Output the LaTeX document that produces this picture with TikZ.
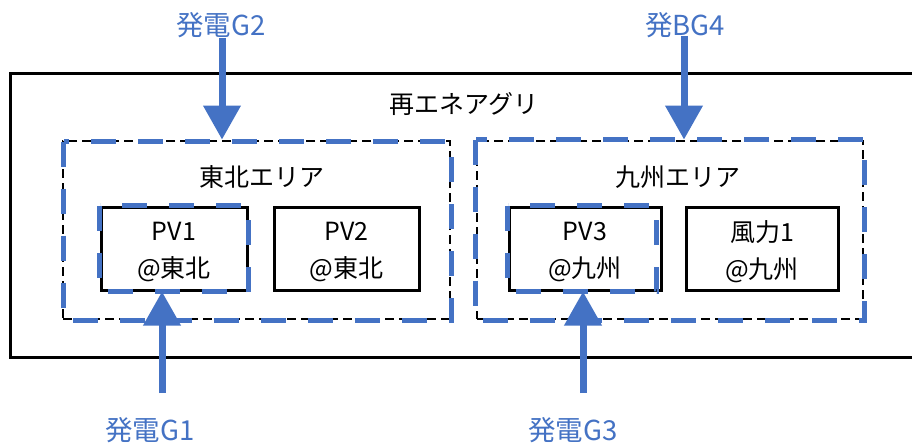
\documentclass[tikz,border=0pt]{standalone}
\usepackage{fontspec}
\setmainfont{Noto Sans CJK JP}
\usetikzlibrary{arrows.meta}
\definecolor{gblue}{HTML}{4472C4}
\begin{document}
\begin{tikzpicture}[x=1pt,y=-1pt,
  txt/.style={font=\fontsize{25}{37}\selectfont, align=center, inner sep=0pt},
  bluetxt/.style={font=\fontsize{27.5}{36}\selectfont, inner sep=0pt, text=gblue},
  outerbox/.style={draw, line width=3pt, inner sep=0pt},
  areabox/.style={draw, line width=2.8pt, dash pattern=on 9pt off 5pt, inner sep=0pt, minimum height=178pt},
  unitbox/.style={draw, line width=3pt, inner sep=0pt, minimum height=83pt},
  bluedash/.style={draw=gblue, line width=5.5pt, dash pattern=on 25pt off 22pt},
  garrow/.style={draw=gblue, line width=7pt, -{Triangle[width=36pt,length=34pt]}}
]
\clip (0,0) rectangle (912,444);
\fill[white] (0,0) rectangle (912,444);
% outer aggregate
\node[outerbox, minimum width=905pt, minimum height=284pt] (agg) at (462.5,215) {};
\node[txt] (aggl) at (464,104) {再エネアグリ};
% areas
\node[areabox, minimum width=387pt] (tohoku) at (256.5,230) {};
\node[areabox, minimum width=386pt] (kyushu) at (670,230) {};
\draw[bluedash] ([shift={(2,2)}]tohoku.north west) rectangle (tohoku.south east);
\draw[bluedash] (kyushu.north west) rectangle (kyushu.south east);
\node[txt] (tohokul) at (262,177) {東北エリア};
\node[txt] (kyushul) at (678,177) {九州エリア};
% units
\node[unitbox, minimum width=146pt] (pv1) at (174,248.5) {};
\node[unitbox, minimum width=145pt] (pv2) at (346.5,248.5) {};
\node[unitbox, minimum width=152pt] (pv3) at (585,248.5) {};
\node[unitbox, minimum width=152pt] (wind1) at (762,248.5) {};
\node[txt] (pv1t) at ([yshift=-3pt]pv1.center) {PV1\\@東北};
\node[txt] (pv2t) at ([yshift=-3pt]pv2.center) {PV2\\@東北};
\node[txt] (pv3t) at ([yshift=-3pt]pv3.center) {PV3\\@九州};
\node[txt] (wind1t) at ([yshift=-3pt]wind1.center) {風力1\\@九州};
\draw[bluedash] (pv1.north west) rectangle (pv1.south east);
\draw[bluedash] (pv3.north west) rectangle ([shift={(-6,0)}]pv3.south east);
% generators
\node[bluetxt] (g2) at (221,25) {発電G2};
\node[bluetxt] (g4) at (685,25) {発BG4};
\node[bluetxt] (g1) at (150,430) {発電G1};
\node[bluetxt] (g3) at (573,430) {発電G3};
\coordinate (a2) at (222,38);
\coordinate (a4) at (684,36);
\coordinate (a1) at (162,393);
\coordinate (a3) at (583,393);
\draw[garrow] (a2) -- (a2 |- tohoku.north);
\draw[garrow] (a4) -- (a4 |- kyushu.north);
\draw[garrow] (a1) -- (a1 |- pv1.south);
\draw[garrow] (a3) -- (a3 |- pv3.south);
\end{tikzpicture}
\end{document}
